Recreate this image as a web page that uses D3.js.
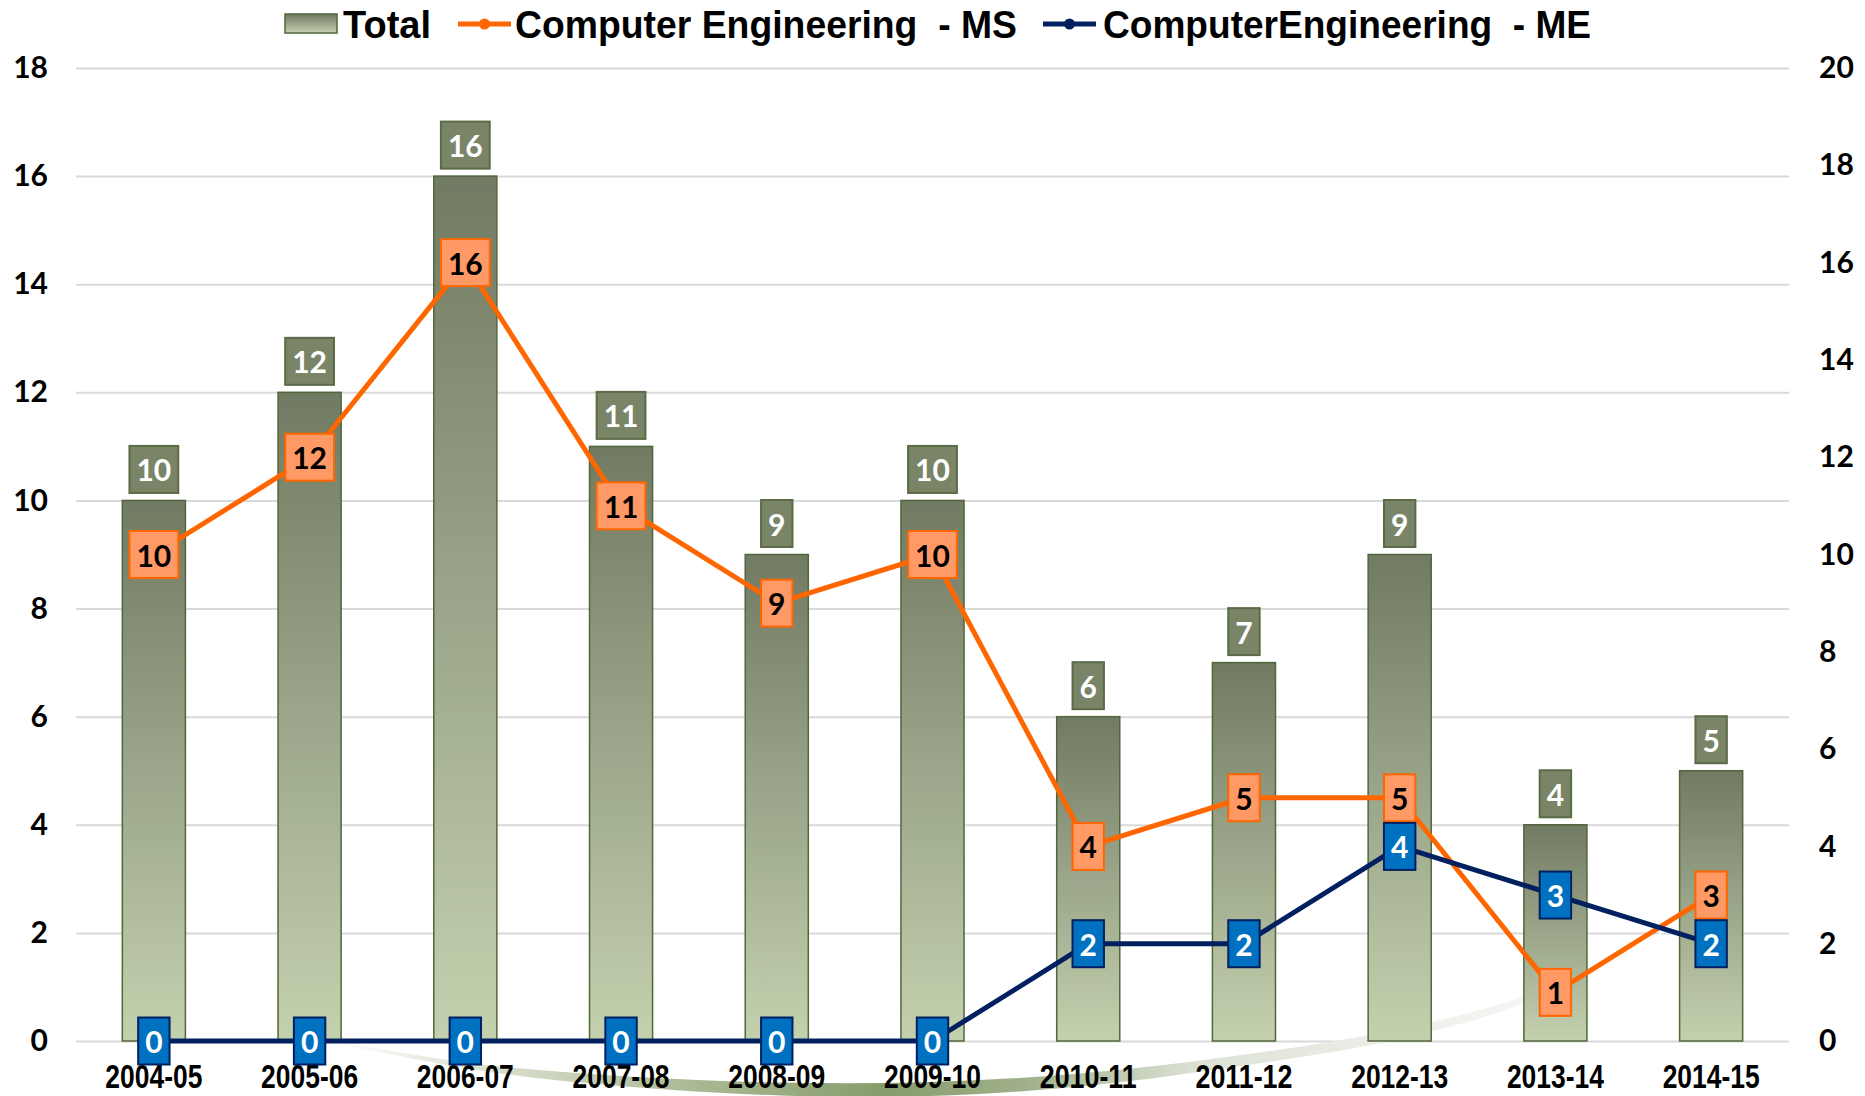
<!DOCTYPE html>
<html><head><meta charset="utf-8">
<script src="https://cdn.jsdelivr.net/npm/d3@7"></script>
<style>body{margin:0;background:#fff;} svg{display:block;}</style>
</head><body><svg id="c" width="1865" height="1096"></svg>
<script>
// ---- data ----
const categories = ["2004-05","2005-06","2006-07","2007-08","2008-09","2009-10","2010-11","2011-12","2012-13","2013-14","2014-15"];
const totalValues = [10,12,16,11,9,10,6,7,9,4,5];
const msValues = [10,12,16,11,9,10,4,5,5,1,3];
const meValues = [0,0,0,0,0,0,2,2,4,3,2];
const leftTicks = [0,2,4,6,8,10,12,14,16,18];
const rightTicks = [0,2,4,6,8,10,12,14,16,18,20];
const seriesNames = ["Total","Computer Engineering  - MS","ComputerEngineering  - ME"];

// ---- layout ----
const W = 1865, H = 1096;
const plot = {left: 76, right: 1789, top: 68, bottom: 1041};
const svg = d3.select("#c");
const defs = svg.append("defs");

const barGrad = defs.append("linearGradient").attr("id","barGrad").attr("x1",0).attr("y1",0).attr("x2",0).attr("y2",1);
barGrad.append("stop").attr("offset","0").attr("stop-color","#717a62");
barGrad.append("stop").attr("offset","0.5").attr("stop-color","#9ba68a");
barGrad.append("stop").attr("offset","1").attr("stop-color","#c4d1ae");

const swGrad = defs.append("linearGradient").attr("id","swGrad").attr("gradientUnits","userSpaceOnUse")
  .attr("x1",320).attr("y1",0).attr("x2",1670).attr("y2",0);
[[0,"#ffffff"],[0.1,"#e3e8da"],[0.28,"#a9b893"],[0.42,"#879c6b"],[0.52,"#a0b08a"],[0.65,"#dce2d4"],[0.8,"#eeefea"],[1,"#ffffff"]]
  .forEach(([o,c])=>swGrad.append("stop").attr("offset",o).attr("stop-color",c));

const x = d3.scaleBand().domain(categories).range([plot.left, plot.right]).paddingInner(0.595).paddingOuter(0.2975);
const yL = d3.scaleLinear().domain([0,18]).range([plot.bottom, plot.top]);
const yR = d3.scaleLinear().domain([0,20]).range([plot.bottom, plot.top]);
const cx = c => x(c) + x.bandwidth()/2;

// gridlines
svg.append("g").attr("transform",`translate(${plot.left},0)`)
  .call(d3.axisLeft(yL).tickValues(leftTicks).tickSize(-(plot.right-plot.left)).tickFormat(""))
  .call(g=>g.select(".domain").remove())
  .call(g=>g.selectAll("line").attr("stroke","#d9d9d9").attr("stroke-width",2));

// decorative swoosh
const swoosh = [[315,1038,0.5],[470,1066,3],[620,1081,5],[780,1089,6.5],[930,1089,7],[1080,1080,6.5],[1230,1062,5.5],[1380,1038,5],[1500,1008,4],[1600,968,2.5],[1670,928,0.5]];
svg.append("path").attr("d", d3.area().x(d=>d[0]).y0(d=>d[1]-d[2]).y1(d=>d[1]+d[2]).curve(d3.curveCatmullRom)(swoosh))
  .attr("fill","url(#swGrad)");

// bars
svg.append("g").selectAll("rect").data(categories).join("rect")
  .attr("x", c=>x(c)).attr("width", x.bandwidth())
  .attr("y", (c,i)=>yL(totalValues[i])).attr("height",(c,i)=>yL(0)-yL(totalValues[i]))
  .attr("fill","url(#barGrad)").attr("stroke","#52663c").attr("stroke-width",1.5);

// axes labels
const tickFont = "Lato, 'Open Sans', sans-serif";
svg.append("g").attr("transform",`translate(${plot.left},0)`)
  .call(d3.axisLeft(yL).tickValues(leftTicks).tickSize(0).tickPadding(28))
  .call(g=>g.select(".domain").remove())
  .call(g=>g.selectAll("text").attr("font-family",tickFont).attr("font-weight",700).attr("font-size",30).attr("fill","#000"));
svg.append("g").attr("transform",`translate(${plot.right},0)`)
  .call(d3.axisRight(yR).tickValues(rightTicks).tickSize(0).tickPadding(30))
  .call(g=>g.select(".domain").remove())
  .call(g=>g.selectAll("text").attr("font-family",tickFont).attr("font-weight",700).attr("font-size",30).attr("fill","#000"));
svg.append("g").attr("transform",`translate(0,${plot.bottom})`)
  .call(d3.axisBottom(x).tickSize(0))
  .call(g=>g.select(".domain").remove())
  .call(g=>g.selectAll("text").attr("y",47).attr("dy",0).attr("font-family","'Liberation Sans', Arial, sans-serif")
    .attr("font-weight",700).attr("font-size",33).attr("fill","#000")
    .attr("textLength",97).attr("lengthAdjust","spacingAndGlyphs"));

// lines
const lineGen = scale => d3.line().x((v,i)=>cx(categories[i])).y(v=>scale(v));
svg.append("path").datum(msValues).attr("d", lineGen(yR)).attr("fill","none").attr("stroke","#ff6600").attr("stroke-width",5).attr("stroke-linejoin","round");
svg.append("path").datum(meValues).attr("d", lineGen(yR)).attr("fill","none").attr("stroke","#002060").attr("stroke-width",5).attr("stroke-linejoin","round");

// labels
function boxLabels(values, scale, yOffset, fill, stroke, textColor) {
  const g = svg.append("g");
  values.forEach((v,i)=>{
    const px = cx(categories[i]), py = scale(v) + yOffset;
    const lg = g.append("g");
    const r = lg.append("rect");
    const t = lg.append("text").attr("x",px).attr("y",py).attr("text-anchor","middle").attr("dominant-baseline","central")
      .attr("font-family",tickFont).attr("font-weight",700).attr("font-size",30).attr("fill",textColor).text(v);
    const tw = t.node().getComputedTextLength();
    const bw = tw + 14, bh = 47;
    r.attr("x",px-bw/2).attr("y",py-bh/2).attr("width",bw).attr("height",bh).attr("fill",fill).attr("stroke",stroke).attr("stroke-width",2);
  });
}
boxLabels(totalValues, yL, -31, "#7a8467", "#5a6b46", "#ffffff");
boxLabels(msValues, yR, 0, "#ff9966", "#ff6600", "#000000");
boxLabels(meValues, yR, 0, "#0070c0", "#002060", "#ffffff");

// legend
const leg = svg.append("g").attr("font-family","'Liberation Sans', Arial, sans-serif").attr("font-weight",700).attr("font-size",39);
leg.append("rect").attr("x",285).attr("y",14).attr("width",52).attr("height",19).attr("fill","url(#barGrad)").attr("stroke","#52663c").attr("stroke-width",1.5);
leg.append("text").attr("x",343).attr("y",38).attr("textLength",88).attr("lengthAdjust","spacingAndGlyphs").text(seriesNames[0]);
[[458,"#ff6600",515,seriesNames[1],502],[1043,"#002060",1103,seriesNames[2],488]].forEach(([lx,col,tx,name,len])=>{
  leg.append("line").attr("x1",lx).attr("x2",lx+53).attr("y1",24).attr("y2",24).attr("stroke",col).attr("stroke-width",5);
  leg.append("circle").attr("cx",lx+26.5).attr("cy",24).attr("r",5.5).attr("fill",col);
  leg.append("text").attr("x",tx).attr("y",38).style("white-space","pre")
    .attr("textLength",len).attr("lengthAdjust","spacingAndGlyphs").text(name);
});
</script></body></html>
